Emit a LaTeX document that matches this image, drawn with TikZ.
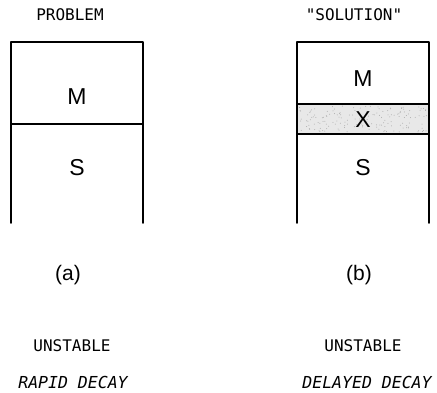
\documentclass[tikz,border=0pt]{standalone}
\usepackage{fontspec}
\setmainfont{Liberation Sans}
\newfontfamily\lettering{DejaVu Sans Mono}
\begin{document}
\begin{tikzpicture}[x=1pt,y=-1pt,
  wall/.style={line width=1.8pt,line cap=round,line join=round},
  big/.style={font=\fontsize{23}{23}\selectfont},
  sublabel/.style={font=\fontsize{21}{21}\selectfont},
  small/.style={font=\lettering\fontsize{16}{16}\selectfont},
  slant/.style={font=\lettering\itshape\fontsize{16.5}{17}\selectfont}]
\useasboundingbox (0,0) rectangle (437,392);
% left box
\coordinate (aTL) at (11,42);
\coordinate (aTR) at (143,42);
\coordinate (aML) at (11,124);
\coordinate (aMR) at (143,124);
\coordinate (aBL) at (11,223);
\coordinate (aBR) at (143,223);
\draw[wall] (aBL) -- (aTL) -- (aTR) -- (aBR);
\draw[wall] (aML) -- (aMR);
% right box
\coordinate (bTL) at (297,42);
\coordinate (bTR) at (429,42);
\coordinate (bXL) at (297,104);
\coordinate (bXR) at (429,104);
\coordinate (bSL) at (297,134);
\coordinate (bSR) at (429,134);
\coordinate (bBL) at (297,223);
\coordinate (bBR) at (429,223);
\fill[gray!18] (bXL) rectangle (bSR);
\foreach \i in {1,...,160}{
  \pgfmathsetmacro{\px}{299+128*rnd}
  \pgfmathsetmacro{\py}{106+26*rnd}
  \fill[gray!65] (\px,\py) circle (0.5pt);
}
\draw[wall] (bBL) -- (bTL) -- (bTR) -- (bBR);
\draw[wall] (bXL) -- (bXR);
\draw[wall] (bSL) -- (bSR);
% texts
\node[small] (tProb) at (70,15) {PROBLEM};
\node[small] (tSol) at (354,15) {"SOLUTION"};
\node[big] (aM) at (77,97) {M};
\node[big] (aS) at (77,168) {S};
\node[big] (bM) at (363,79) {M};
\node[big] (bX) at (363,120) {X};
\node[big] (bS) at (363,168) {S};
\node[sublabel] (la) at (68,275) {(a)};
\node[sublabel] (lb) at (359,275) {(b)};
\node[small] (ua) at (72,346) {UNSTABLE};
\node[slant] (ra) at (73,382) {RAPID DECAY};
\node[small] (ub) at (363,346) {UNSTABLE};
\node[slant] (rb) at (367,382) {DELAYED DECAY};
\end{tikzpicture}
\end{document}
